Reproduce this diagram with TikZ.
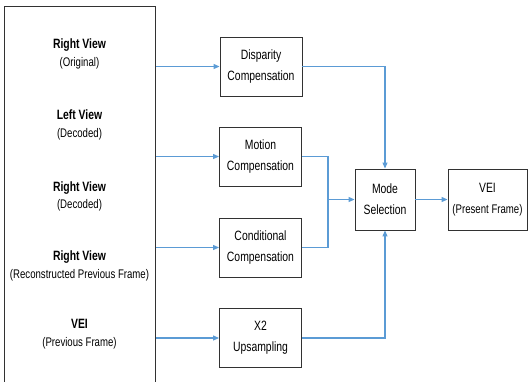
\documentclass[tikz,border=0pt]{standalone}
\usepackage{fontspec}
\setmainfont{Liberation Sans}[FakeStretch=0.77]
\usetikzlibrary{arrows.meta}
\definecolor{flowblue}{RGB}{91,155,213}
\definecolor{boxgray}{RGB}{50,50,50}
\tikzset{
    block/.style={draw=boxgray,line width=0.9pt,minimum width=82pt,minimum height=59pt,
        align=center,font=\fontsize{13.5}{21}\selectfont,inner sep=0pt},
    flow/.style={draw=flowblue,line width=1.1pt},
    flowarr/.style={flow,-{Triangle[length=6pt,width=5pt]}},
    viewlabel/.style={align=center,inner sep=0pt}
}
\newcommand{\viewtext}[2]{{\fontsize{13.5}{15}\selectfont\bfseries #1}\\[5.5pt]{\fontsize{12.5}{15}\selectfont #2}}
\begin{document}
\begin{tikzpicture}[x=1pt,y=-1pt]
        \clip (0,0) rectangle (528,381);
        %% Input views
        \node[draw=boxgray,line width=0.9pt,minimum width=151pt,minimum height=400pt,anchor=north west,inner sep=0pt] (views) at (4,6) {};
        \node[viewlabel] (rvorig) at (79.5,54) {\viewtext{Right View}{(Original)}};
        \node[viewlabel] (lvdec) at (79.5,125) {\viewtext{Left View}{(Decoded)}};
        \node[viewlabel] (rvdec) at (79.5,196.5) {\viewtext{Right View}{(Decoded)}};
        \node[viewlabel] (rvrec) at (79.5,266) {\viewtext{Right View}{(Reconstructed Previous Frame)}};
        \node[viewlabel] (veiprev) at (79.5,334) {\viewtext{VEI}{(Previous Frame)}};
        %% Processing blocks
        \node[block] (disp) at (261,66.5) {Disparity\\Compensation};
        \node[block] (motion) at (260.5,156.5) {Motion\\Compensation};
        \node[block] (cond) at (260.5,247.5) {Conditional\\Compensation};
        \node[block] (upsamp) at (260.5,338) {X2\\Upsampling};
        \node[block,minimum width=60pt,minimum height=61pt] (mode) at (385,199.5) {Mode\\Selection};
        \node[block,minimum width=79pt,minimum height=61pt] (veipres) at (487.5,199.5)
            {VEI\\{\fontsize{12.5}{15}\selectfont(Present Frame)}};
        \coordinate (merge) at (328,199.5);
        %% Inputs to blocks
        \draw[flowarr] (views.east |- disp.west) -- (disp.west);
        \draw[flowarr] (views.east |- motion.west) -- (motion.west);
        \draw[flowarr] (views.east |- cond.west) -- (cond.west);
        \draw[flowarr] (views.east |- upsamp.west) -- (upsamp.west);
        %% Blocks to mode selection
        \draw[flowarr] (disp.east) -| (mode.north);
        \draw[flow] (motion.east) -| (merge);
        \draw[flow] (cond.east) -| (merge);
        \draw[flowarr] (merge) -- (mode.west);
        \draw[flowarr] (upsamp.east) -| (mode.south);
        \draw[flowarr] (mode.east) -- (veipres.west);
    \end{tikzpicture}
\end{document}
